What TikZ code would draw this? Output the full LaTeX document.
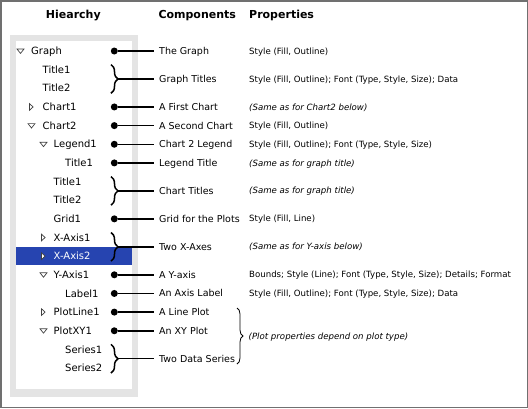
\documentclass[tikz,border=0pt]{standalone}
\usepackage{fontspec}
\setmainfont{DejaVu Sans}
\usetikzlibrary{decorations.pathreplacing}
\definecolor{selblue}{RGB}{38,68,176}
\definecolor{panelgray}{RGB}{228,228,228}
\definecolor{framegray}{RGB}{112,112,112}
\newcommand\downtri[2]{\draw[tri] ({#1-3.5},{#2-2}) -- ({#1+3.5},{#2-2}) -- (#1,{#2+2.4}) -- cycle;}
\newcommand\righttri[3][white]{\draw[tri,fill=#1] ({#2-1.8},{#3-3.3}) -- ({#2-1.8},{#3+3.3}) -- ({#2+1.8},#3) -- cycle;}
\begin{document}
\begin{tikzpicture}[x=1pt,y=-1pt,
  treetext/.style={anchor=base west,inner sep=0pt,font=\fontsize{10}{12}\selectfont},
  comptext/.style={anchor=base west,inner xsep=5pt,inner ysep=0pt,font=\fontsize{9.5}{11}\selectfont},
  proptext/.style={anchor=base west,inner sep=0pt,font=\fontsize{8.6}{10}\selectfont},
  propit/.style={proptext,font=\fontsize{8.6}{10}\selectfont\itshape},
  head/.style={anchor=base west,inner sep=0pt,font=\fontsize{11}{13}\selectfont\bfseries},
  dotnode/.style={circle,fill=black,inner sep=0pt,minimum size=7pt},
  conn/.style={line width=1.5pt},
  bracedeco/.style={decorate,decoration={brace,amplitude=7pt},line width=1.5pt},
  bigbrace/.style={decorate,decoration={brace,amplitude=6pt},line width=0.8pt},
  tri/.style={draw=black!75,line width=0.7pt,line join=miter}]

\useasboundingbox (0,0) rectangle (528,408);
\draw[framegray,line width=1.5pt] (0.75,0.75) rectangle (527.25,407.25);

% tree panel
\fill[panelgray] (10,35) rectangle (138,397);
\fill[white] (16,41) rectangle (132,389);
\fill[selblue] (16,246.7) rectangle (132,265);

% headers
\node[head,anchor=base] (h1) at (73.3,18.3) {Hiearchy};
\node[head] (h2) at (158.3,18.3) {Components};
\node[head] (h3) at (249,18.3) {Properties};

% tree entries
\foreach \i/\lv/\nm in {0/0/Graph,1/1/Title1,2/1/Title2,3/1/Chart1,4/1/Chart2,
  5/2/Legend1,6/3/Title1,7/2/Title1,8/2/Title2,9/2/Grid1,10/2/X-Axis1,
  12/2/Y-Axis1,13/3/Label1,14/2/PlotLine1,15/2/PlotXY1,16/3/Series1,17/3/Series2}{
  \pgfmathsetmacro\yy{51+18.65*\i+3.6}
  \pgfmathsetmacro\xx{{31,42.5,53.5,65}[\lv]}
  \node[treetext] (t\i) at (\xx,\yy) {\nm};
}
\node[treetext,text=white] (t11) at (53.5,{51+18.65*11+3.6}) {X-Axis2};

% expand / collapse triangles
\downtri{20.5}{51}
\righttri{31.3}{106.95}
\downtri{31.5}{125.6}
\downtri{43.5}{144.25}
\righttri{43.3}{237.5}
\righttri[white]{43.3}{256.15}
\downtri{43.5}{274.8}
\righttri{43.3}{312.1}
\downtri{43.5}{330.75}

% components (rows, possibly half rows)
\foreach \r/\nm/\k in {0/The Graph/0,1.5/Graph Titles/1,3/A First Chart/3,4/A Second Chart/4,
  5/Chart 2 Legend/5,6/Legend Title/6,7.5/Chart Titles/7,9/Grid for the Plots/9,
  10.5/Two X-Axes/10,12/A Y-axis/12,13/An Axis Label/13,14/A Line Plot/14,
  15/An XY Plot/15,16.5/Two Data Series/16}{
  \node[comptext] (c\k) at (154,{51+18.65*\r+3.4}) {\nm};
}

% dots and connectors
\foreach \k in {0,3,4,5,6,9,12,13,14,15}{
  \node[dotnode] (d\k) at (114.3,{51+18.65*\k}) {};
  \draw[conn] (d\k) -- (d\k -| c\k.west);
}

% braces and connectors
\foreach \k in {1,7,10,16}{
  \draw[bracedeco] (111,{51+18.65*\k-5}) -- (111,{51+18.65*(\k+1)+5});
  \coordinate (b\k) at (118,{51+18.65*(\k+0.5)});
  \draw[conn] (b\k) -- (b\k -| c\k.west);
}

% properties
\node[proptext] (p0) at (249,{51+3.1}) {Style (Fill, Outline)};
\node[proptext] (p1) at (249,{51+18.65*1.5+3.1}) {Style (Fill, Outline); Font (Type, Style, Size); Data};
\node[propit] (p3) at (249,{51+18.65*3+3.1}) {(Same as for Chart2 below)};
\node[proptext] (p4) at (249,{51+18.65*4+3.1}) {Style (Fill, Outline)};
\node[proptext] (p5) at (249,{51+18.65*5+3.1}) {Style (Fill, Outline); Font (Type, Style, Size)};
\node[propit] (p6) at (249,{51+18.65*6+3.1}) {(Same as for graph title)};
\node[propit] (p7) at (249,{51+18.65*7.5+3.1}) {(Same as for graph title)};
\node[proptext] (p9) at (249,{51+18.65*9+3.1}) {Style (Fill, Line)};
\node[propit] (p10) at (249,{51+18.65*10.5+3.1}) {(Same as for Y-axis below)};
\node[proptext] (p12) at (249,{51+18.65*12+3.1}) {Bounds; Style (Line); Font (Type, Style, Size); Details; Format};
\node[proptext] (p13) at (249,{51+18.65*13+3.1}) {Style (Fill, Outline); Font (Type, Style, Size); Data};

% big brace for plots
\draw[bigbrace] (237,308) -- (237,364);
\node[propit] (p14) at (248.5,{336+3.1}) {(Plot properties depend on plot type)};
\end{tikzpicture}
\end{document}
